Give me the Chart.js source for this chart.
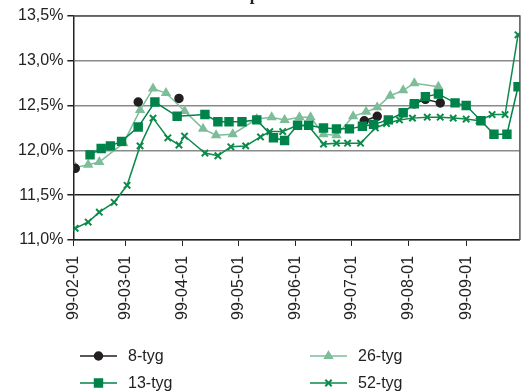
<!DOCTYPE html>
<html>
<head>
<meta charset="utf-8">
<script src="https://cdn.jsdelivr.net/npm/chart.js@4.4.0/dist/chart.umd.min.js"></script>
<style>
html,body{margin:0;padding:0;background:#fff;}
#wrap{width:527px;height:392px;position:relative;}
</style>
</head>
<body>
<div id="wrap"><canvas id="myChart"></canvas></div>
<script>
const titel = "Ränta på statsskuldväxlar";
const manader = ["99-02-01","99-03-01","99-04-01","99-05-01","99-06-01","99-07-01","99-08-01","99-09-01"];
const slutdatum = "99-09-30";
const serier = ["8-tyg","13-tyg","26-tyg","52-tyg"];

// 8-tyg, null = glapp i linjen
const datum8 = ["99-02-02","99-02-16","99-03-08","99-03-20","99-03-30","99-05-01","99-07-08","99-07-15","99-07-25","99-08-04","99-08-10","99-08-18"];
const ranta8 = [11.80, null, 12.54, null, 12.58, null, 12.33, 12.38, null, 12.52, 12.57, 12.53];

const datum13 = ["99-02-10","99-02-16","99-02-21","99-02-27","99-03-08","99-03-17","99-03-29","99-04-13","99-04-20","99-04-26",
  "99-05-03","99-05-11","99-05-20","99-05-26","99-06-02","99-06-08","99-06-16","99-06-23","99-06-30","99-07-07",
  "99-07-13","99-07-21","99-07-29","99-08-04","99-08-10","99-08-17","99-08-26","99-09-01","99-09-09","99-09-16","99-09-23","99-09-29"];
const ranta13 = [11.95,12.02,12.05,12.10,12.26,12.54,12.38,12.40,12.32,12.32,
  12.32,12.34,12.14,12.11,12.28,12.28,12.25,12.24,12.24,12.27,
  12.29,12.34,12.42,12.52,12.60,12.63,12.53,12.50,12.33,12.18,12.18,12.71];

const datum26 = ["99-02-02","99-02-09","99-02-15","99-02-28","99-03-09","99-03-16","99-03-23","99-04-02","99-04-12","99-04-19",
  "99-04-28","99-05-11","99-05-19","99-05-26","99-06-03","99-06-09","99-06-16","99-06-23","99-07-02","99-07-09",
  "99-07-15","99-07-22","99-07-29","99-08-04","99-08-17"];
const ranta26 = [11.81,11.84,11.87,12.08,12.45,12.69,12.64,12.44,12.24,12.17,
  12.18,12.35,12.37,12.34,12.37,12.37,12.18,12.17,12.38,12.43,
  12.48,12.61,12.67,12.75,12.71];

const datum52 = ["99-02-02","99-02-09","99-02-15","99-02-23","99-03-02","99-03-09","99-03-16","99-03-24","99-03-30","99-04-02",
  "99-04-13","99-04-20","99-04-27","99-05-05","99-05-13","99-05-18","99-05-25","99-06-02","99-06-08","99-06-16",
  "99-06-23","99-06-29","99-07-06","99-07-14","99-07-20","99-07-27","99-08-03","99-08-11","99-08-18","99-08-25",
  "99-09-01","99-09-08","99-09-15","99-09-22","99-09-29"];
const ranta52 = [11.13,11.20,11.31,11.42,11.61,12.05,12.36,12.14,12.06,12.16,
  11.97,11.94,12.04,12.05,12.15,12.21,12.21,12.28,12.27,12.07,
  12.08,12.08,12.08,12.25,12.30,12.34,12.36,12.37,12.37,12.36,
  12.35,12.33,12.40,12.40,13.29];

const yTicks = [11.0, 11.5, 12.0, 12.5, 13.0, 13.5];

function dag(s){
    const p = s.split("-");
    return (Date.UTC(1900 + Number(p[0]), Number(p[1]) - 1, Number(p[2])) - Date.UTC(1999, 1, 1)) / 864e5;
}
function punkter(datum, ranta){
    return datum.map((d, i) => ({x: dag(d), y: ranta[i]}));
}

Chart.defaults.font.family = "'Liberation Sans', Arial, sans-serif";
Chart.defaults.color = "#222";

const ramPlugin = {
    id: "ram",
    beforeDatasetsDraw(chart){
        const a = chart.chartArea, ctx = chart.ctx;
        ctx.save();
        ctx.strokeStyle = "#555";
        ctx.lineWidth = 1.5;
        ctx.beginPath();
        ctx.moveTo(a.left, a.top);
        ctx.lineTo(a.right, a.top);
        ctx.lineTo(a.right, a.bottom);
        ctx.stroke();
        ctx.restore();
    },
    afterDraw(chart){
        const ctx = chart.ctx;
        ctx.save();
        // rubriken ligger till storsta delen utanfor bilden
        ctx.font = "bold 17px 'Liberation Serif', serif";
        ctx.fillStyle = "#222";
        ctx.textAlign = "center";
        ctx.textBaseline = "alphabetic";
        ctx.fillText(titel, 296, -0.5);

        // egen legend med linje + markor
        const kolX = [80, 310];
        const radY = [356, 383];
        chart.data.datasets.forEach((ds, i) => {
            const x0 = kolX[Math.floor(i / 2)];
            const y = radY[i % 2];
            ctx.strokeStyle = ds.borderColor;
            ctx.fillStyle = ds.backgroundColor;
            ctx.lineWidth = ds.borderWidth;
            ctx.beginPath();
            ctx.moveTo(x0, y);
            ctx.lineTo(x0 + 37, y);
            ctx.stroke();
            ctx.lineWidth = ds.pointBorderWidth || ds.borderWidth;
            Chart.helpers.drawPoint(ctx, {pointStyle: ds.pointStyle, radius: ds.pointRadius, rotation: 0, borderWidth: ctx.lineWidth}, x0 + 18.5, y);
            ctx.fillStyle = "#222";
            ctx.font = "16px 'Liberation Sans', Arial, sans-serif";
            ctx.textAlign = "left";
            ctx.textBaseline = "middle";
            ctx.fillText(ds.label, x0 + 48, y + 1);
        });
        ctx.restore();
    }
};

const ctx = document.getElementById("myChart").getContext("2d");
const myChart = new Chart(ctx, {
    type: "line",
    data: {
        datasets: [
            {
                label: serier[0],
                data: punkter(datum8, ranta8),
                borderColor: "#231f20",
                backgroundColor: "#231f20",
                borderWidth: 1.5,
                pointStyle: "circle",
                pointRadius: 4,
                spanGaps: false,
                order: 1
            },
            {
                label: serier[1],
                data: punkter(datum13, ranta13),
                borderColor: "#00834a",
                backgroundColor: "#00834a",
                borderWidth: 1.5,
                pointStyle: "rect",
                pointRadius: 5.6,
                order: 0
            },
            {
                label: serier[2],
                data: punkter(datum26, ranta26),
                borderColor: "#7dbd99",
                backgroundColor: "#7dbd99",
                borderWidth: 1.5,
                pointStyle: "triangle",
                pointRadius: 4.5,
                order: 3
            },
            {
                label: serier[3],
                data: punkter(datum52, ranta52),
                borderColor: "#0b8a4a",
                backgroundColor: "#0b8a4a",
                borderWidth: 1.5,
                pointStyle: "crossRot",
                pointRadius: 4.5,
                pointBorderWidth: 2,
                order: 2
            }
        ]
    },
    options: {
        responsive: true,
        maintainAspectRatio: false,
        animation: false,
        layout: {
            padding: {left: 14, right: 5, top: 16, bottom: 62}
        },
        plugins: {
            legend: {display: false},
            title: {display: false},
            tooltip: {enabled: false}
        },
        scales: {
            x: {
                type: "linear",
                min: 0,
                max: dag(slutdatum),
                afterBuildTicks: axis => {
                    axis.ticks = manader.map(m => ({value: dag(m)}));
                },
                ticks: {
                    autoSkip: false,
                    minRotation: 90,
                    maxRotation: 90,
                    padding: 10,
                    font: {size: 16},
                    callback: v => manader.find(m => dag(m) === v)
                },
                grid: {
                    drawOnChartArea: false,
                    tickLength: 6,
                    tickColor: "#222"
                },
                border: {color: "#222", width: 1.5}
            },
            y: {
                min: 11,
                max: 13.5,
                afterBuildTicks: axis => {
                    axis.ticks = yTicks.map(v => ({value: v}));
                },
                ticks: {
                    padding: 4,
                    font: {size: 16},
                    callback: v => v.toFixed(1).replace(".", ",") + "%"
                },
                grid: {
                    color: c => (c.tick && c.tick.value === 11.5) ? "#222" : "#8a8a8a",
                    lineWidth: 1.5,
                    tickLength: 6,
                    tickColor: "#222"
                },
                border: {color: "#222", width: 1.5}
            }
        }
    },
    plugins: [ramPlugin]
});
</script>
</body>
</html>
